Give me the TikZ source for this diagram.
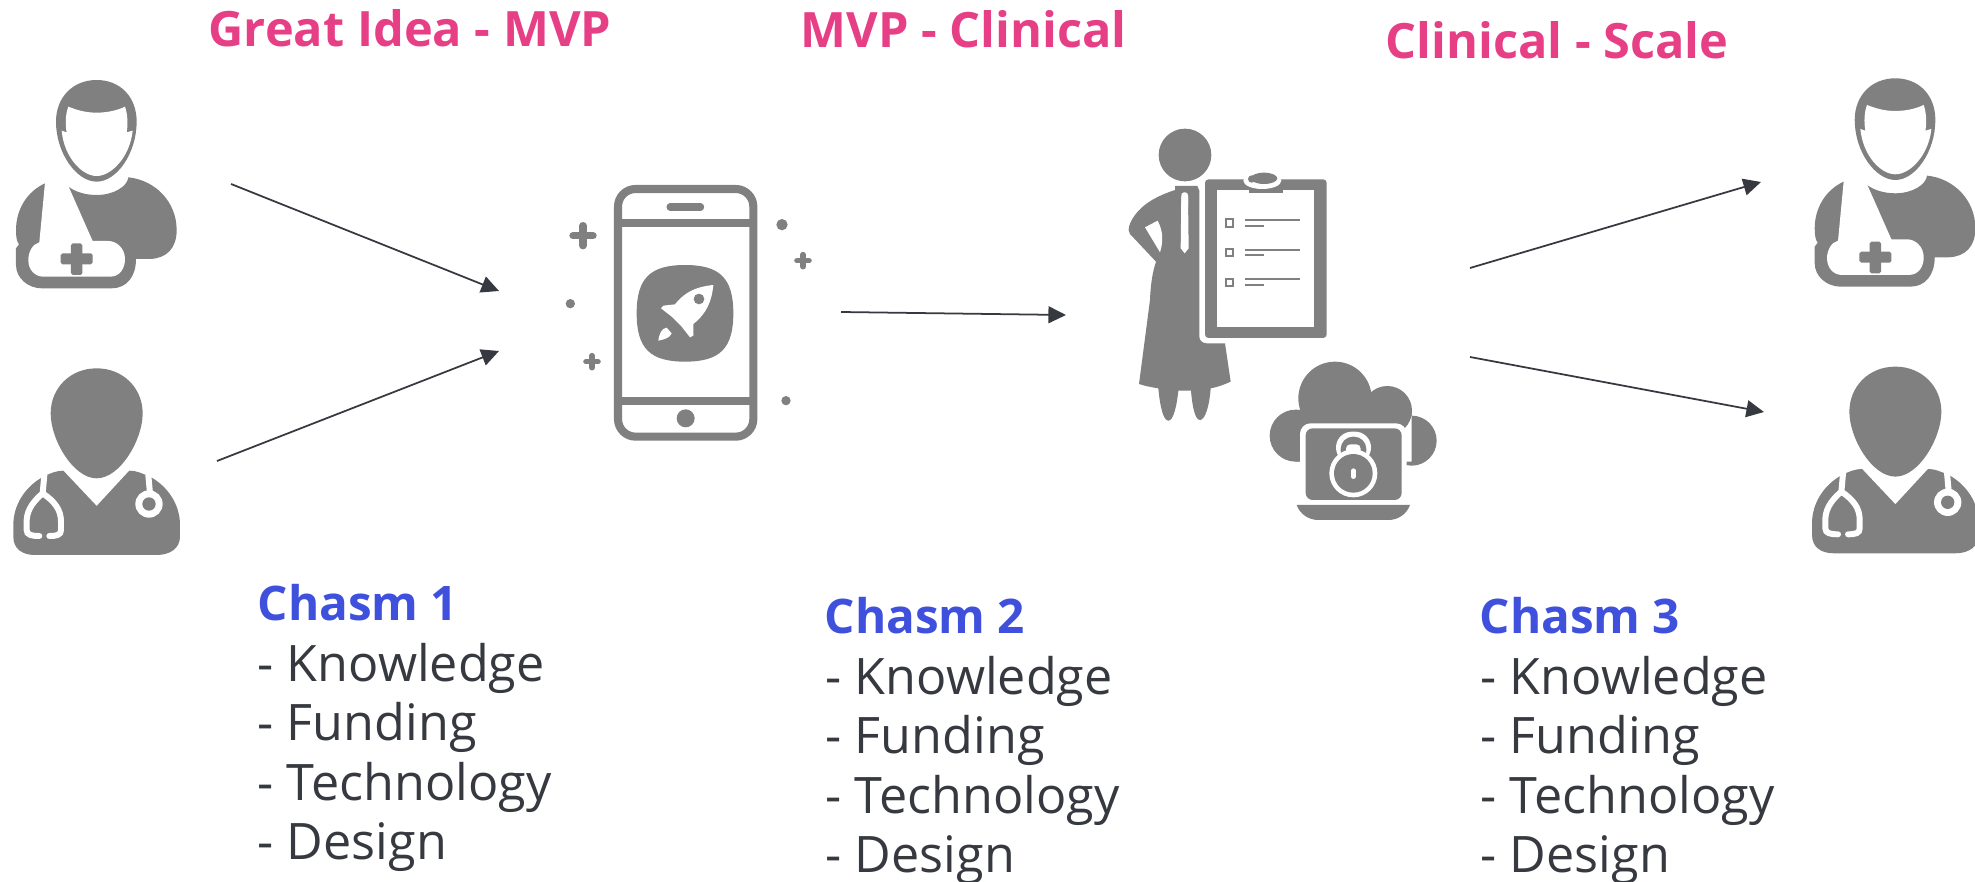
\documentclass[tikz,border=0pt]{standalone}
\usepackage{fontspec}
\setmainfont{Open Sans}
\usepackage{xcolor}
\usetikzlibrary{arrows.meta}
\definecolor{icongray}{HTML}{808080}
\definecolor{titlepink}{HTML}{E63F85}
\definecolor{chasmblue}{HTML}{3F51DC}
\definecolor{bodytext}{HTML}{36393F}
\tikzset{
    solid icon/.style={fill=icongray, draw=none},
    cut icon/.style={fill=white, draw=none},
    line icon/.style={draw=icongray, line cap=round},
    cut line/.style={draw=white, line cap=round},
    patient/.pic={
        \path[solid icon] (290,60) .. controls (360,60) and (410,110) .. (410,185) .. controls (410,280) and (350,365) .. (290,365) .. controls (230,365) and (168,280) .. (168,185) .. controls (168,110) and (220,60) .. (290,60) -- cycle;
        \path[cut icon] (205,140) .. controls (235,152) and (260,158) .. (290,158) .. controls (320,158) and (350,152) .. (375,140) .. controls (382,160) and (385,190) .. (380,217) -- (398,212) .. controls (390,290) and (335,348) .. (290,348) .. controls (245,348) and (192,290) .. (185,212) -- (200,217) .. controls (195,190) and (197,160) .. (205,140) -- cycle;
        \path[solid icon] (135,370) .. controls (80,395) and (48,450) .. (48,510) .. controls (48,530) and (50,545) .. (57,553) -- (48,565) -- (48,615) .. controls (48,655) and (85,685) .. (125,685) -- (335,685) .. controls (380,685) and (408,650) .. (408,597) -- (450,597) .. controls (500,595) and (530,565) .. (530,510) .. controls (530,425) and (465,360) .. (385,352) .. controls (382,380) and (340,405) .. (290,405) .. controls (255,405) and (225,395) .. (205,380) -- cycle;
        \path[cut icon] (135,368) -- (118,547) .. controls (98,552) and (85,575) .. (85,600) .. controls (85,630) and (105,650) .. (130,650) -- (330,650) .. controls (360,650) and (375,625) .. (375,597) .. controls (375,565) and (350,543) .. (325,543) -- (278,543) -- (205,378) -- cycle;
        \path[solid icon, rounded corners=0.5pt] (182,580) rectangle (278,613);
        \path[solid icon, rounded corners=0.5pt] (213,550) rectangle (247,645);
    },
    doctor/.pic={
        \path[solid icon] (290,925) .. controls (370,925) and (428,985) .. (428,1060) .. controls (428,1140) and (360,1255) .. (290,1255) .. controls (220,1255) and (152,1140) .. (152,1060) .. controls (152,985) and (210,925) .. (290,925) -- cycle;
        \path[solid icon] (190,1232) -- (290,1338) -- (388,1232) .. controls (410,1232) and (425,1240) .. (450,1250) .. controls (505,1280) and (540,1335) .. (540,1395) -- (540,1430) .. controls (540,1465) and (510,1485) .. (470,1485) -- (105,1485) .. controls (65,1485) and (40,1465) .. (40,1430) -- (40,1395) .. controls (40,1335) and (75,1280) .. (130,1250) .. controls (150,1240) and (170,1232) .. (190,1232) -- cycle;
        \draw[cut line, line width=1.7pt] (133,1245) -- (128,1300) .. controls (105,1320) and (82,1345) .. (80,1380) -- (80,1410) .. controls (80,1425) and (95,1428) .. (118,1428);
        \draw[cut line, line width=1.7pt] (128,1300) .. controls (165,1325) and (183,1350) .. (183,1385) -- (183,1410) .. controls (183,1425) and (170,1428) .. (148,1428);
        \draw[cut line, line width=1.7pt] (445,1245) -- (450,1300);
        \path[cut icon] (447,1332) circle (41);
        \path[solid icon] (447,1332) circle (20);
    },
    phone/.pic={
        \draw[line icon, line width=2.3pt, rounded corners=5pt] (204,57) rectangle (610,800);
        \draw[line icon, line width=2.2pt, line cap=butt] (204,160) -- (610,160);
        \draw[line icon, line width=2.2pt, line cap=butt] (204,692) -- (610,692);
        \draw[line icon, line width=2pt] (360,111) -- (452,111);
        \path[solid icon] (407,745) circle (27);
        \path[solid icon] (405,285) .. controls (510,285) and (550,325) .. (550,430) .. controls (550,535) and (510,575) .. (405,575) .. controls (300,575) and (260,535) .. (260,430) .. controls (260,325) and (300,285) .. (405,285) -- cycle;
        \path[cut icon] (490,345) .. controls (440,350) and (405,365) .. (375,403) -- (340,407) -- (333,415) -- (365,440) -- (395,470) -- (420,502) -- (430,497) -- (430,462) .. controls (470,430) and (485,395) .. (490,345) -- cycle;
        \path[solid icon] (447,387) circle (16);
        \path[cut icon] (325,512) .. controls (328,490) and (335,475) .. (350,473) -- (365,490) .. controls (360,503) and (345,508) .. (325,512) -- cycle;
        \path[solid icon] (696,164) circle (17);
        \path[solid icon] (61,401) circle (14);
        \path[solid icon] (708,692) circle (14);
        \draw[line icon, line width=2.1pt] (69,197) -- (129,197) (99,167) -- (99,227);
        \draw[line icon, line width=1.6pt] (741,272) -- (777,272) (759,254) -- (759,290);
        \draw[line icon, line width=1.6pt] (108,575) -- (144,575) (126,557) -- (126,593);
    },
    clinician/.pic={
        \path[solid icon] (225,135) circle (79);
        \path[solid icon] (195,228) -- (262,228) -- (268,242) -- (268,680) .. controls (268,692) and (278,700) .. (290,700) -- (345,700) -- (362,815) .. controls (340,825) and (320,832) .. (302,835) .. controls (298,890) and (285,930) .. (270,930) .. controls (255,930) and (247,890) .. (243,842) -- (205,842) .. controls (200,890) and (190,932) .. (175,932) .. controls (160,932) and (150,890) .. (145,835) .. controls (125,832) and (105,828) .. (87,822) -- (120,570) .. controls (122,520) and (128,485) .. (138,455) -- (60,372) .. controls (50,360) and (60,335) .. (75,315) .. controls (105,275) and (150,255) .. (195,240) -- cycle;
        \path[cut icon] (105,352) -- (143,332) .. controls (160,365) and (160,395) .. (150,427) -- cycle;
        \path[cut icon, rounded corners=0.8pt] (214,247) rectangle (234,300);
        \path[cut icon] (214,260) -- (234,260) -- (236,415) -- (224,430) -- (212,415) -- cycle;
        \path[solid icon, rounded corners=1pt] (285,208) rectangle (650,684);
        \path[cut icon] (322,240) rectangle (613,652);
        \path[solid icon] (418,235) rectangle (518,250);
        \path[cut icon] (457,212) ellipse (57 and 25);
        \path[solid icon] (462,205) ellipse (40 and 17);
        \path[solid icon] (425,207) circle (11);
        \foreach \rowy in {339,428,517} {
            \draw[line icon, line width=0.65pt, line cap=butt] (347,\rowy-11) rectangle (369,\rowy+11);
            \draw[line icon, line width=0.5pt, line cap=butt] (405,\rowy-9) -- (570,\rowy-9);
            \draw[line icon, line width=0.5pt, line cap=butt] (405,\rowy+8) -- (463,\rowy+8);
        }
        \path[solid icon] (675,865) circle (110);
        \path[solid icon] (832,902) circle (74);
        \path[solid icon] (557,977) circle (78);
        \path[solid icon] (905,992) circle (75) (557,900) rectangle (905,1055);
        \path[cut icon, rounded corners=3pt] (570,940) rectangle (890,1190);
        \path[solid icon, rounded corners=2pt] (587,955) -- (875,955) -- (875,1170) -- (587,1170) -- cycle;
        \path[solid icon] (560,1185) -- (900,1185) .. controls (890,1212) and (865,1230) .. (835,1230) -- (625,1230) .. controls (595,1230) and (570,1212) .. (560,1185) -- cycle;
        \path[cut icon, rounded corners=4.5pt] (678,965) rectangle (783,1060);
        \path[solid icon, rounded corners=3.5pt] (692,980) rectangle (769,1060);
        \path[cut icon, rounded corners=1.2pt] (708,1003) rectangle (752,1048);
        \path[cut icon] (730,1090) circle (72);
        \path[solid icon] (730,1090) circle (58);
        \draw[cut line, line width=1.3pt] (730,1082) -- (730,1100);
    },
    titlelabel/.style={anchor=base west, inner sep=0pt, font=\fontsize{13.85pt}{16pt}\selectfont\bfseries, text=titlepink},
    chasmlabel/.style={anchor=base west, inner sep=0pt, font=\fontsize{13.55pt}{16pt}\selectfont\bfseries, text=chasmblue},
    listlabel/.style={anchor=base west, inner sep=0pt, font=\fontsize{14.3pt}{16.93pt}\selectfont, text=bodytext, align=left},
    arrow/.style={-{Triangle[length=5pt, width=4.8pt]}, line width=0.5pt, draw=bodytext}
}
\begin{document}
\begin{tikzpicture}[x=0.01cm, y=-0.01cm]
    \useasboundingbox (0,0) rectangle (1975,882);

    \pic[scale=1/3] (patienta) at (0,60) {patient};
    \pic[scale=1/3] (doctora) at (0,60) {doctor};
    \pic[scale=1/3] (phoneapp) at (550,170) {phone};
    \pic[scale=1/3] (clinic) at (1110,110) {clinician};
    \pic[scale=1/3] (patientb) at (1798.7,58.3) {patient};
    \pic[scale=1/3] (doctorb) at (1798.7,58.3) {doctor};

    \node[titlelabel] (title1) at (208,47) {Great Idea - MVP};
    \node[titlelabel] (title2) at (800,48) {MVP - Clinical};
    \node[titlelabel] (title3) at (1385,59) {Clinical - Scale};

    \node[chasmlabel] (chasm1) at (257,620) {Chasm 1};
    \node[chasmlabel] (chasm2) at (824,633) {Chasm 2};
    \node[chasmlabel] (chasm3) at (1479,633) {Chasm 3};

    \node[listlabel] (know1) at (257,681) {- Knowledge};
    \node[listlabel] (fund1) at (257,740) {- Funding};
    \node[listlabel] (tech1) at (257,800) {- Technology};
    \node[listlabel] (desg1) at (257,859) {- Design};
    \node[listlabel] (know2) at (825,694) {- Knowledge};
    \node[listlabel] (fund2) at (825,753) {- Funding};
    \node[listlabel] (tech2) at (825,813) {- Technology};
    \node[listlabel] (desg2) at (825,872) {- Design};
    \node[listlabel] (know3) at (1480,694) {- Knowledge};
    \node[listlabel] (fund3) at (1480,753) {- Funding};
    \node[listlabel] (tech3) at (1480,813) {- Technology};
    \node[listlabel] (desg3) at (1480,872) {- Design};

    \coordinate (in1) at (231,184);
    \coordinate (in2) at (217,461);
    \coordinate (hub1) at (499,291);
    \coordinate (hub2) at (499,351);
    \coordinate (out1) at (841,312);
    \coordinate (hub3) at (1066,315);
    \coordinate (out2) at (1470,268);
    \coordinate (out3) at (1470,357);
    \coordinate (end2) at (1761,182);
    \coordinate (end3) at (1764,412);

    \draw[arrow] (in1) -- (hub1);
    \draw[arrow] (in2) -- (hub2);
    \draw[arrow] (out1) -- (hub3);
    \draw[arrow] (out2) -- (end2);
    \draw[arrow] (out3) -- (end3);
\end{tikzpicture}
\end{document}
